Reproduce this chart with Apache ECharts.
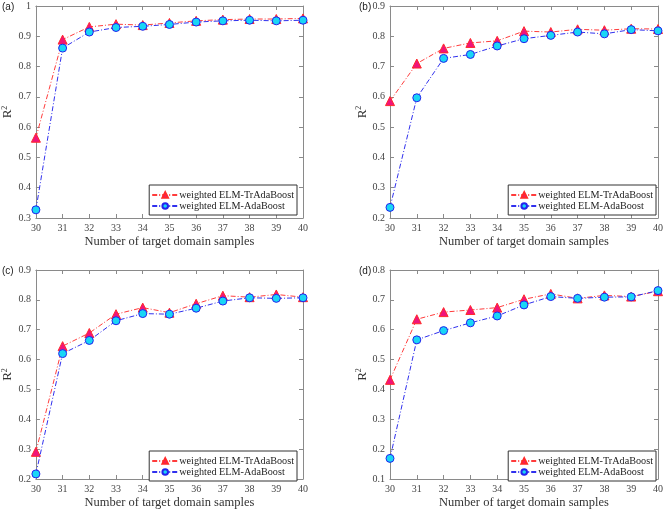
<!DOCTYPE html>
<html><head><meta charset="utf-8">
<script src="https://cdn.jsdelivr.net/npm/echarts@6/dist/echarts.min.js"></script>
<style>html,body{margin:0;padding:0;background:#fff}#c{width:666px;height:510px}</style>
</head><body><div id="c"></div>
<script>
const samples = [30,31,32,33,34,35,36,37,38,39,40];
const nameTr = 'weighted ELM-TrAdaBoost';
const nameAda = 'weighted ELM-AdaBoost';
const trA  = [0.565,0.889,0.931,0.940,0.937,0.944,0.951,0.955,0.957,0.957,0.959];
const adaA = [0.327,0.861,0.914,0.929,0.933,0.939,0.947,0.951,0.953,0.951,0.953];
const trB  = [0.586,0.710,0.760,0.778,0.785,0.817,0.814,0.823,0.820,0.825,0.824];
const adaB = [0.235,0.597,0.727,0.740,0.768,0.792,0.803,0.814,0.808,0.822,0.818];
const trC  = [0.291,0.645,0.689,0.752,0.774,0.757,0.787,0.814,0.809,0.818,0.809];
const adaC = [0.217,0.620,0.664,0.730,0.754,0.752,0.772,0.796,0.807,0.805,0.807];
const trD  = [0.432,0.635,0.659,0.666,0.674,0.702,0.720,0.705,0.715,0.711,0.729];
const adaD = [0.169,0.566,0.597,0.623,0.646,0.683,0.711,0.705,0.709,0.710,0.731];
const yRanges = [[0.3,1.0],[0.2,0.9],[0.2,0.9],[0.1,0.8]];
const panelLabels = ['(a)','(b)','(c)','(d)'];
const xTitle = 'Number of target domain samples';

const panels = [
  {tr:trA, ada:adaA, grid:{left:33,right:363,top:6,bottom:292}, legend:{right:369,top:185}, label:{x:2,y:2}},
  {tr:trB, ada:adaB, grid:{left:390,right:5,top:6,bottom:292}, legend:{right:10,top:185}, label:{x:359,y:2}},
  {tr:trC, ada:adaC, grid:{left:33,right:363,top:270,bottom:27}, legend:{right:369,top:451}, label:{x:2,y:266}},
  {tr:trD, ada:adaD, grid:{left:390,right:5,top:270,bottom:27}, legend:{right:10,top:451}, label:{x:359,y:266}}
];

const axisColor = '#8a8a8a';
const labelColor = '#444';
const font = 'Liberation Serif';
const grids=[], xAxes=[], yAxes=[], series=[], legends=[], graphics=[];
const pairs = arr => arr.map((v,i)=>[samples[i], v]);

panels.forEach((p,i)=>{
  grids.push(Object.assign({containLabel:false}, p.grid));
  const base = {gridIndex:i, type:'value', min:30, max:40, interval:1,
    axisLine:{onZero:false, lineStyle:{color:axisColor,width:1}},
    axisTick:{inside:true,length:4,lineStyle:{color:axisColor}},
    splitLine:{show:false}};
  xAxes.push(Object.assign({}, base, {position:'bottom',
    axisLabel:{color:labelColor,fontFamily:font,fontSize:10,margin:5},
    name:xTitle, nameLocation:'middle', nameGap:17,
    nameTextStyle:{color:'#333',fontFamily:font,fontSize:12.5}}));
  xAxes.push(Object.assign({}, base, {position:'top', axisLabel:{show:false}}));
  const yb = {gridIndex:i, type:'value', min:yRanges[i][0], max:yRanges[i][1], interval:0.1,
    axisLine:{onZero:false, show:true, lineStyle:{color:axisColor,width:1}},
    axisTick:{show:true,inside:true,length:4,lineStyle:{color:axisColor}},
    splitLine:{show:false}};
  yAxes.push(Object.assign({}, yb, {position:'left',
    axisLabel:{color:labelColor,fontFamily:font,fontSize:10,margin:5,
      formatter:v=>{const r=Math.round(v*10)/10; return r===1?'1':String(r);}},
    name:'{a|R}{b|2}', nameLocation:'middle', nameGap:15, nameRotate:90,
    nameTextStyle:{rich:{a:{color:'#333',fontFamily:font,fontSize:13},
                         b:{color:'#333',fontFamily:font,fontSize:8,verticalAlign:'top',padding:[0,0,6,0]}}}}));
  yAxes.push(Object.assign({}, yb, {position:'right', axisLabel:{show:false}}));
  series.push({name:nameTr, type:'line', xAxisIndex:2*i, yAxisIndex:2*i, data:pairs(p.tr),
    symbol:'triangle', symbolSize:9,
    itemStyle:{color:'#f0147a', borderColor:'#ff2a2a', borderWidth:1},
    lineStyle:{color:'#ff3c3c', width:1, type:[5,2,1,2]}, z:3});
  series.push({name:nameAda, type:'line', xAxisIndex:2*i, yAxisIndex:2*i, data:pairs(p.ada),
    symbol:'circle', symbolSize:8,
    itemStyle:{color:'#19d6f5', borderColor:'#2222ee', borderWidth:1},
    lineStyle:{color:'#3030ee', width:1, type:[5,2,1,2]}, z:4});
  legends.push({data:[nameTr,nameAda], right:p.legend.right, top:p.legend.top, orient:'vertical',
    itemWidth:26, itemHeight:7, itemGap:1, padding:[5,3,4,2],
    borderColor:'#333', borderWidth:1, backgroundColor:'#fff', selectedMode:false,
    textStyle:{fontFamily:font, fontSize:10.2, lineHeight:10, color:'#222', padding:[0,0,0,-4]}});
  graphics.push({type:'text', left:p.label.x, top:p.label.y,
    style:{text:panelLabels[i], font:'10px "Liberation Sans"', fill:'#222'}});
});

const chart = echarts.init(document.getElementById('c'), null, {renderer:'canvas'});
chart.setOption({animation:false, backgroundColor:'#fff', grid:grids, xAxis:xAxes, yAxis:yAxes,
  series:series, legend:legends, graphic:graphics});
</script></body></html>
